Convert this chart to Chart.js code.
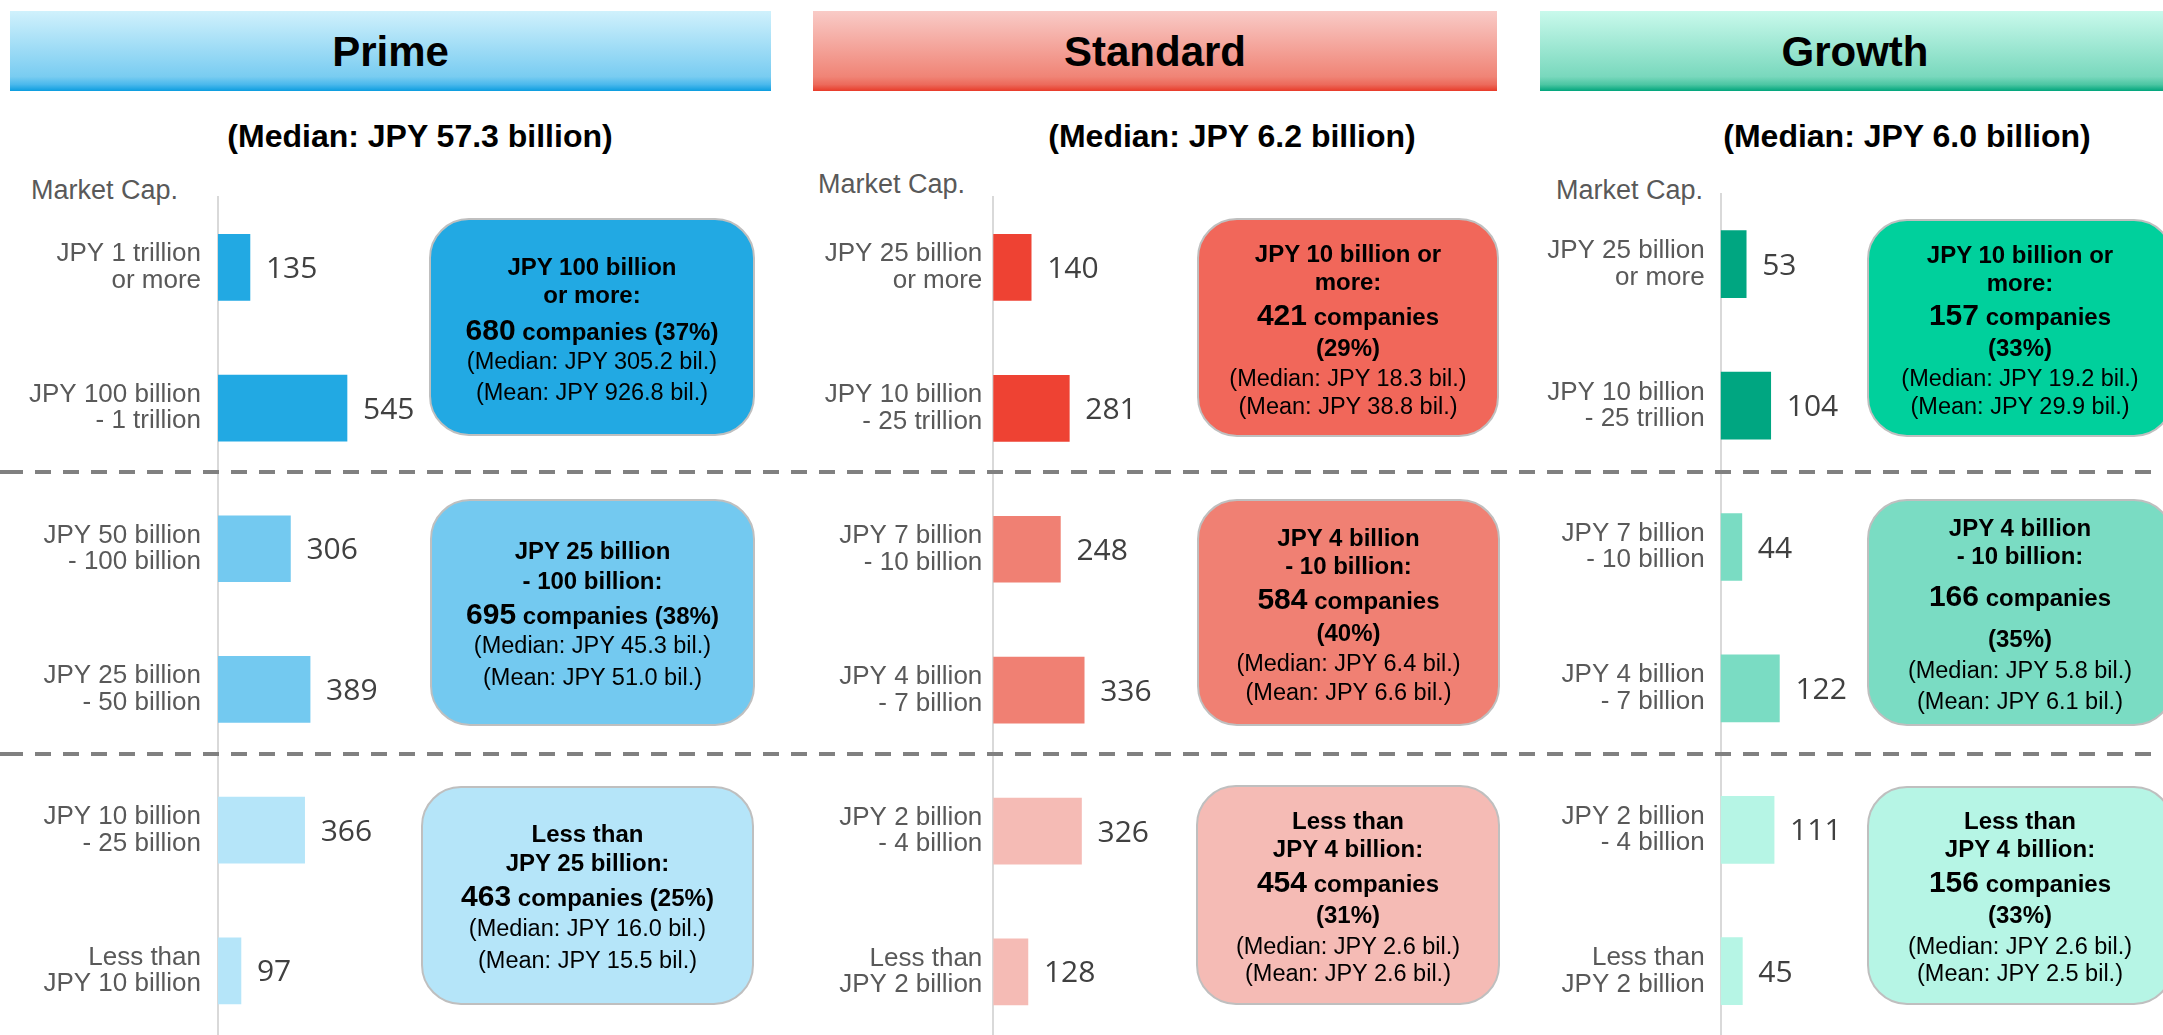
<!DOCTYPE html>
<html>
<head>
<meta charset="utf-8">
<script src="https://cdn.jsdelivr.net/npm/chart.js@4.4.1/dist/chart.umd.min.js"></script>
<style>
  html, body { margin: 0; padding: 0; background: #ffffff; }
  body { width: 2163px; height: 1035px; overflow: hidden; position: relative; font-family: "Liberation Sans", Arial, sans-serif; }
  .header { position: absolute; top: 11px; height: 80px; line-height: 80px; text-align: center; font-weight: bold; font-size: 42px; color: #000; }
  .header span { position: relative; top: 1px; }
  .sub { position: absolute; top: 116px; height: 40px; line-height: 40px; font-weight: bold; font-size: 32px; color: #000; white-space: nowrap; transform: translateX(-50%); }
  .mcap { position: absolute; height: 30px; line-height: 30px; font-size: 27px; color: #595959; white-space: nowrap; }
  .dash { position: absolute; left: 0; width: 2163px; height: 4px;
          background-image: repeating-linear-gradient(to right, #808080 0 16px, transparent 16px 28px);
          background-position: 7px 0; }
  .box { position: absolute; box-sizing: border-box; border: 2.5px solid #bfbfbf; border-radius: 40px; }
  .bl { position: absolute; height: 32px; line-height: 32px; text-align: center; white-space: nowrap; color: #000; }
  .b { font-weight: bold; font-size: 24px; }
  .big { font-weight: bold; font-size: 30px; }
  .r { font-size: 23.5px; }
  canvas { position: absolute; top: 0; }
</style>
</head>
<body>
<script>
// ---------------- DATA ----------------
const panelTitles = ["Prime", "Standard", "Growth"];
const medianTexts = ["(Median: JPY 57.3 billion)", "(Median: JPY 6.2 billion)", "(Median: JPY 6.0 billion)"];
const axisTitle = "Market Cap.";

const primeLabels = [["JPY 1 trillion", "or more"], ["JPY 100 billion", "- 1 trillion"],
  ["JPY 50 billion", "- 100 billion"], ["JPY 25 billion", "- 50 billion"],
  ["JPY 10 billion", "- 25 billion"], ["Less than", "JPY 10 billion"]];
const primeValues = [135, 545, 306, 389, 366, 97];

const standardLabels = [["JPY 25 billion", "or more"], ["JPY 10 billion", "- 25 trillion"],
  ["JPY 7 billion", "- 10 billion"], ["JPY 4 billion", "- 7 billion"],
  ["JPY 2 billion", "- 4 billion"], ["Less than", "JPY 2 billion"]];
const standardValues = [140, 281, 248, 336, 326, 128];

const growthLabels = [["JPY 25 billion", "or more"], ["JPY 10 billion", "- 25 trillion"],
  ["JPY 7 billion", "- 10 billion"], ["JPY 4 billion", "- 7 billion"],
  ["JPY 2 billion", "- 4 billion"], ["Less than", "JPY 2 billion"]];
const growthValues = [53, 104, 44, 122, 111, 45];

const primeGroups = [
  { head: ["JPY 100 billion", "or more:"], count: 680, pct: "37%", median: "305.2", mean: "926.8" },
  { head: ["JPY 25 billion", "- 100 billion:"], count: 695, pct: "38%", median: "45.3", mean: "51.0" },
  { head: ["Less than", "JPY 25 billion:"], count: 463, pct: "25%", median: "16.0", mean: "15.5" }
];
const standardGroups = [
  { head: ["JPY 10 billion or", "more:"], count: 421, pct: "29%", median: "18.3", mean: "38.8" },
  { head: ["JPY 4 billion", "- 10 billion:"], count: 584, pct: "40%", median: "6.4", mean: "6.6" },
  { head: ["Less than", "JPY 4 billion:"], count: 454, pct: "31%", median: "2.6", mean: "2.6" }
];
const growthGroups = [
  { head: ["JPY 10 billion or", "more:"], count: 157, pct: "33%", median: "19.2", mean: "29.9" },
  { head: ["JPY 4 billion", "- 10 billion:"], count: 166, pct: "35%", median: "5.8", mean: "6.1" },
  { head: ["Less than", "JPY 4 billion:"], count: 156, pct: "33%", median: "2.6", mean: "2.5" }
];

// ---------------- LAYOUT / STYLE ----------------
const panels = [
  { labels: primeLabels, values: primeValues, groups: primeGroups, splitPct: false,
    barColors: ["#22a9e3", "#22a9e3", "#73c9f0", "#73c9f0", "#b5e5f9", "#b5e5f9"],
    boxColors: ["#22a9e3", "#73c9f0", "#b5e5f9"],
    header: { left: 10, width: 761, grad: ["#d0f1fc", "#79ccf1", "#4ab8ec", "#0c9ddf"] },
    subX: 420, mcap: { left: 31, top: 175 },
    canvas: { left: 0, width: 700, axisW: 218, max: 2000, pxPerUnit: 0.2367, top: 197, step: 140.7, bar: 66, pad: 17 },
    boxes: [[429, 218, 326, 218], [430, 499, 325, 227], [421, 786, 333, 219]],
    lineY: [[267, 295, 330, 361, 392], [551, 581, 614, 645, 677], [834, 863, 896, 928, 960]] },
  { labels: standardLabels, values: standardValues, groups: standardGroups, splitPct: true,
    barColors: ["#ee4233", "#ee4233", "#f08073", "#f08073", "#f5bbb5", "#f5bbb5"],
    boxColors: ["#f1675a", "#f08073", "#f5bbb5"],
    header: { left: 813, width: 684, grad: ["#f9cbc7", "#f08476", "#ec6a5b", "#e83b29"] },
    subX: 1232, mcap: { left: 818, top: 169 },
    canvas: { left: 780, width: 640, axisW: 213.3, max: 1500, pxPerUnit: 0.2705, top: 197, step: 140.9, bar: 66, pad: 11 },
    boxes: [[1197, 218, 302, 219], [1197, 499, 303, 227], [1196, 785, 304, 220]],
    lineY: [[254, 282, 315, 348, 378, 406], [538, 566, 599, 633, 663, 692], [821, 849, 882, 915, 946, 973]] },
  { labels: growthLabels, values: growthValues, groups: growthGroups, splitPct: true,
    barColors: ["#00a681", "#00a681", "#7adcc3", "#7adcc3", "#b6f5e5", "#b6f5e5"],
    boxColors: ["#00d09c", "#7adcc3", "#b6f5e5"],
    header: { left: 1540, width: 630, grad: ["#c9f9ec", "#79d8bd", "#4cc6a3", "#00a57c"] },
    subX: 1907, mcap: { left: 1556, top: 175 },
    canvas: { left: 1520, width: 520, axisW: 200.7, max: 600, pxPerUnit: 0.481, top: 193.5, step: 141.4, bar: 67, pad: 16 },
    boxes: [[1866.5, 219, 307, 218], [1866.5, 499, 307, 227], [1866.5, 786, 307, 219]],
    lineY: [[255, 283, 315, 348, 378, 406], [528, 556, 596, 639, 670, 701], [821, 849, 882, 915, 946, 973]] }
];
const CANVAS_H = 1050;

const valueLabels = {
  id: 'valueLabels',
  afterDatasetsDraw(chart) {
    const ctx = chart.ctx;
    const meta = chart.getDatasetMeta(0);
    const data = chart.data.datasets[0].data;
    ctx.save();
    ctx.font = '30px "Open Sans", "DejaVu Sans", sans-serif';
    ctx.fillStyle = '#404040';
    ctx.textAlign = 'left';
    ctx.textBaseline = 'alphabetic';
    meta.data.forEach((bar, i) => {
      ctx.fillText(String(data[i]), bar.x + 16, bar.y + 10.5);
    });
    ctx.restore();
  }
};

function el(tag, cls, style, html) {
  const e = document.createElement(tag);
  if (cls) e.className = cls;
  if (style) Object.assign(e.style, style);
  if (html !== undefined) e.innerHTML = html;
  document.body.appendChild(e);
  return e;
}

panels.forEach((p, pi) => {
  const h = p.header;
  el('div', 'header', {
    left: h.left + 'px', width: h.width + 'px',
    background: `linear-gradient(to bottom, ${h.grad[0]} 0%, ${h.grad[1]} 82%, ${h.grad[2]} 92%, ${h.grad[3]} 100%)`
  }, `<span>${panelTitles[pi]}</span>`);
  el('div', 'sub', { left: p.subX + 'px' }, medianTexts[pi]);
  el('div', 'mcap', { left: p.mcap.left + 'px', top: p.mcap.top + 'px' }, axisTitle);

  const c = p.canvas;
  const cv = document.createElement('canvas');
  cv.width = c.width; cv.height = CANVAS_H;
  cv.style.left = c.left + 'px';
  cv.style.width = c.width + 'px'; cv.style.height = CANVAS_H + 'px';
  document.body.appendChild(cv);
  const plotH = c.step * p.values.length;
  const rightPad = c.width - c.axisW - c.max * c.pxPerUnit;
  new Chart(cv.getContext('2d'), {
    type: 'bar',
    data: {
      labels: p.labels,
      datasets: [{ data: p.values, backgroundColor: p.barColors, borderWidth: 0, barThickness: c.bar }]
    },
    options: {
      indexAxis: 'y',
      responsive: false,
      maintainAspectRatio: false,
      animation: false,
      devicePixelRatio: 1,
      layout: { padding: { top: c.top, bottom: CANVAS_H - c.top - plotH, left: 0, right: rightPad } },
      plugins: { legend: { display: false }, tooltip: { enabled: false }, title: { display: false } },
      scales: {
        x: { display: false, min: 0, max: c.max },
        y: {
          afterFit: (s) => { s.width = c.axisW; s.paddingTop = 0; s.paddingBottom = 0; },
          grid: { display: false, drawTicks: false },
          border: { display: true, color: '#d9d9d9', width: 2 },
          ticks: {
            autoSkip: false, padding: c.pad, color: '#595959',
            font: { family: '"Liberation Sans", Arial, sans-serif', size: 26, lineHeight: 1.02 }
          }
        }
      }
    },
    plugins: [valueLabels]
  });

  p.boxes.forEach((b, bi) => {
    const g = p.groups[bi];
    el('div', 'box', { left: b[0] + 'px', top: b[1] + 'px', width: b[2] + 'px', height: b[3] + 'px', background: p.boxColors[bi] });
    let lines;
    if (p.splitPct) {
      lines = [
        `<span class="b">${g.head[0]}</span>`,
        `<span class="b">${g.head[1]}</span>`,
        `<span class="big">${g.count}</span><span class="b"> companies</span>`,
        `<span class="b">(${g.pct})</span>`,
        `<span class="r">(Median: JPY ${g.median} bil.)</span>`,
        `<span class="r">(Mean: JPY ${g.mean} bil.)</span>`
      ];
    } else {
      lines = [
        `<span class="b">${g.head[0]}</span>`,
        `<span class="b">${g.head[1]}</span>`,
        `<span class="big">${g.count}</span><span class="b"> companies (${g.pct})</span>`,
        `<span class="r">(Median: JPY ${g.median} bil.)</span>`,
        `<span class="r">(Mean: JPY ${g.mean} bil.)</span>`
      ];
    }
    lines.forEach((ln, li) => {
      el('div', 'bl', { left: b[0] + 'px', width: b[2] + 'px', top: (p.lineY[bi][li] - 16) + 'px' }, ln);
    });
  });
});

el('div', 'dash', { top: '469.5px' });
el('div', 'dash', { top: '751.5px' });
</script>
</body>
</html>
